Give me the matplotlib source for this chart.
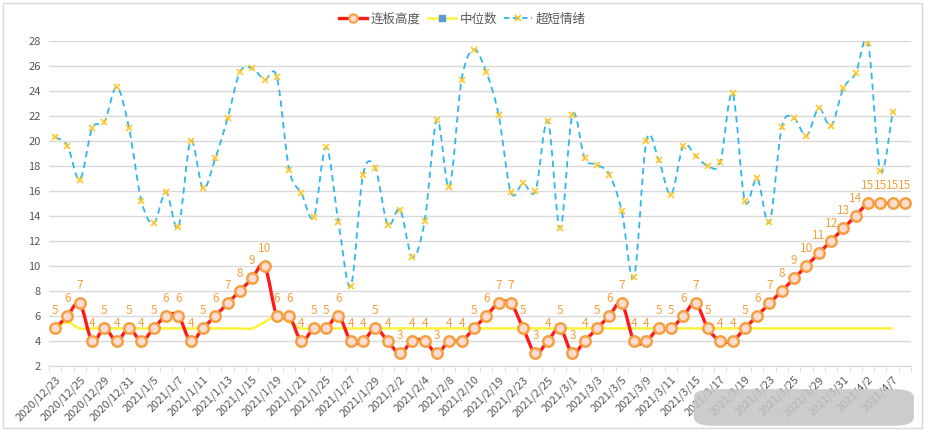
import matplotlib
matplotlib.use('Agg')
import matplotlib.pyplot as plt
from matplotlib.path import Path
from matplotlib.patches import PathPatch, Rectangle, FancyBboxPatch
from matplotlib.lines import Line2D

plt.rcParams['font.family'] = ['Noto Sans CJK SC', 'DejaVu Sans']

# trading days
dates = ['2020/12/23', '2020/12/24', '2020/12/25', '2020/12/28', '2020/12/29', '2020/12/30',
         '2020/12/31', '2021/1/4', '2021/1/5', '2021/1/6', '2021/1/7', '2021/1/8',
         '2021/1/11', '2021/1/12', '2021/1/13', '2021/1/14', '2021/1/15', '2021/1/18',
         '2021/1/19', '2021/1/20', '2021/1/21', '2021/1/22', '2021/1/25', '2021/1/26',
         '2021/1/27', '2021/1/28', '2021/1/29', '2021/2/1', '2021/2/2', '2021/2/3',
         '2021/2/4', '2021/2/5', '2021/2/8', '2021/2/9', '2021/2/10', '2021/2/18',
         '2021/2/19', '2021/2/22', '2021/2/23', '2021/2/24', '2021/2/25', '2021/2/26',
         '2021/3/1', '2021/3/2', '2021/3/3', '2021/3/4', '2021/3/5', '2021/3/8',
         '2021/3/9', '2021/3/10', '2021/3/11', '2021/3/12', '2021/3/15', '2021/3/16',
         '2021/3/17', '2021/3/18', '2021/3/19', '2021/3/22', '2021/3/23', '2021/3/24',
         '2021/3/25', '2021/3/26', '2021/3/29', '2021/3/30', '2021/3/31', '2021/4/1',
         '2021/4/2', '2021/4/6', '2021/4/7', '2021/4/8']

# 连板高度
lianban = [5, 6, 7, 4, 5, 4, 5, 4, 5, 6, 6, 4, 5, 6, 7, 8, 9, 10, 6, 6,
           4, 5, 5, 6, 4, 4, 5, 4, 3, 4, 4, 3, 4, 4, 5, 6, 7, 7, 5, 3,
           4, 5, 3, 4, 5, 6, 7, 4, 4, 5, 5, 6, 7, 5, 4, 4, 5, 6, 7, 8,
           9, 10, 11, 12, 13, 14, 15, 15, 15, 15]

# 中位数
median = [5, 5.5, 5, 5, 5, 5, 5, 5, 5, 5, 5, 5, 5, 5, 5, 5, 5, 5.5, 6, 5.5,
          5, 5, 5, 5, 5, 5, 5, 5, 5, 5, 5, 5, 5, 5, 5, 5, 5, 5, 5, 5,
          5, 5, 5, 5, 5, 5, 5, 5, 5, 5, 5, 5, 5, 5, 5, 5, 5, 5, 5, 5,
          5, 5, 5, 5, 5, 5, 5, 5, 5]

# 超短情绪
emotion = [20.3, 19.6, 16.9, 21.0, 21.5, 24.3, 21.0, 15.2, 13.4, 15.9,
           13.1, 20.0, 16.2, 18.6, 21.8, 25.5, 25.8, 24.9, 25.1, 17.7,
           15.8, 13.9, 19.5, 13.5, 8.4, 17.3, 17.8, 13.3, 14.5, 10.7,
           13.6, 21.7, 16.3, 24.9, 27.3, 25.5, 22.1, 15.9, 16.6, 16.0,
           21.6, 13.0, 22.1, 18.6, 18.1, 17.3, 14.4, 9.1, 20.0, 18.5,
           15.7, 19.6, 18.8, 18.0, 18.3, 23.8, 15.2, 17.0, 13.5, 21.1,
           21.8, 20.4, 22.6, 21.2, 24.2, 25.4, 27.8, 17.6, 22.3]

yticks = list(range(2, 29, 2))


def smooth_path(ys):
    # excel-like smoothed line drawn as bezier segments through the points
    xs = list(range(len(ys)))
    n = len(ys)
    verts = [(xs[0], ys[0])]
    codes = [Path.MOVETO]
    for i in range(n - 1):
        a = i - 1 if i > 0 else i
        b = i + 2 if i + 2 < n else i + 1
        c1 = (xs[i] + (xs[i + 1] - xs[a]) / 6, ys[i] + (ys[i + 1] - ys[a]) / 6)
        c2 = (xs[i + 1] - (xs[b] - xs[i]) / 6, ys[i + 1] - (ys[b] - ys[i]) / 6)
        verts += [c1, c2, (xs[i + 1], ys[i + 1])]
        codes += [Path.CURVE4] * 3
    return Path(verts, codes)


fig = plt.figure(figsize=(9.25, 4.3), dpi=100)
ax = fig.add_axes([0.053, 0.149, 0.932, 0.756])

red = '#FF1A1A'
orange = '#F5A040'
yellow = '#FFF23A'
blue = '#2DB7EA'

ax.add_patch(PathPatch(smooth_path(median), fill=False, edgecolor=yellow, lw=1.8, zorder=3))
ax.add_patch(PathPatch(smooth_path(emotion), fill=False, edgecolor=blue, lw=1.3,
                       linestyle=(0, (3.5, 2.5)), zorder=3))
ax.plot(range(len(emotion)), emotion, ls='none', marker='x', ms=5, mew=1.2,
        color='#FFC72C', zorder=4)

ax.add_patch(PathPatch(smooth_path(lianban), fill=False, edgecolor=red, lw=2.4, zorder=5))
ax.plot(range(len(lianban)), lianban, ls='none', marker='o', ms=7.5, mew=1.8,
        mec=orange, mfc='#FCDCD2', zorder=6)

for i, v in enumerate(lianban):
    ax.annotate(str(v), (i, v), xytext=(0, 8), textcoords='offset points',
                ha='center', va='bottom', color=orange, fontsize=8.5, zorder=7)

ax.set_xlim(-0.5, len(dates) - 0.5)
ax.set_ylim(2, 28)
ax.set_yticks(yticks)
ax.yaxis.grid(True, color='#D9D9D9', lw=1)
ax.set_axisbelow(True)

ax.set_xticks(range(0, len(dates), 2))
ax.set_xticklabels(dates[::2], rotation=45, ha='right', rotation_mode='anchor',
                   fontsize=8, color='#595959')
ax.set_xticks([i + 0.5 for i in range(-1, len(dates))], minor=True)
ax.tick_params(axis='x', which='major', length=0, pad=6)
ax.tick_params(axis='x', which='minor', length=4, color='#D9D9D9')
ax.tick_params(axis='y', length=0, labelsize=8, labelcolor='#595959', pad=6)

for s in ['top', 'right', 'left']:
    ax.spines[s].set_visible(False)
ax.spines['bottom'].set_color('#D9D9D9')

handles = [
    Line2D([], [], color=red, lw=2.4, marker='o', ms=6, mew=1.5, mec=orange, mfc='#FCDCD2'),
    Line2D([], [], color=yellow, lw=1.8, marker='s', ms=5, mec='#5B9BD5', mfc='#5B9BD5'),
    Line2D([], [], color=blue, lw=1.3, ls=(0, (3, 2)), marker='x', ms=5, mew=1.2, mec='#FFC72C'),
]
fig.legend(handles, ['连板高度', '中位数', '超短情绪'], loc='center', bbox_to_anchor=(0.5, 0.955),
           ncol=3, frameon=False, fontsize=9, handlelength=2.2, columnspacing=0.6,
           handletextpad=0.3, labelcolor='#595959')

# chart frame
fig.patches.append(Rectangle((0.003, 0.004), 0.994, 0.99, transform=fig.transFigure,
                             fill=False, edgecolor='#D9D9D9', lw=1))
# blurred watermark area
fig.patches.append(FancyBboxPatch((0.75, 0.01), 0.238, 0.085, transform=fig.transFigure,
                                  boxstyle='round,pad=0,rounding_size=0.02',
                                  facecolor='#C4C4C4', edgecolor='none', alpha=0.85, zorder=10))

fig.savefig('out.png', dpi=100)
